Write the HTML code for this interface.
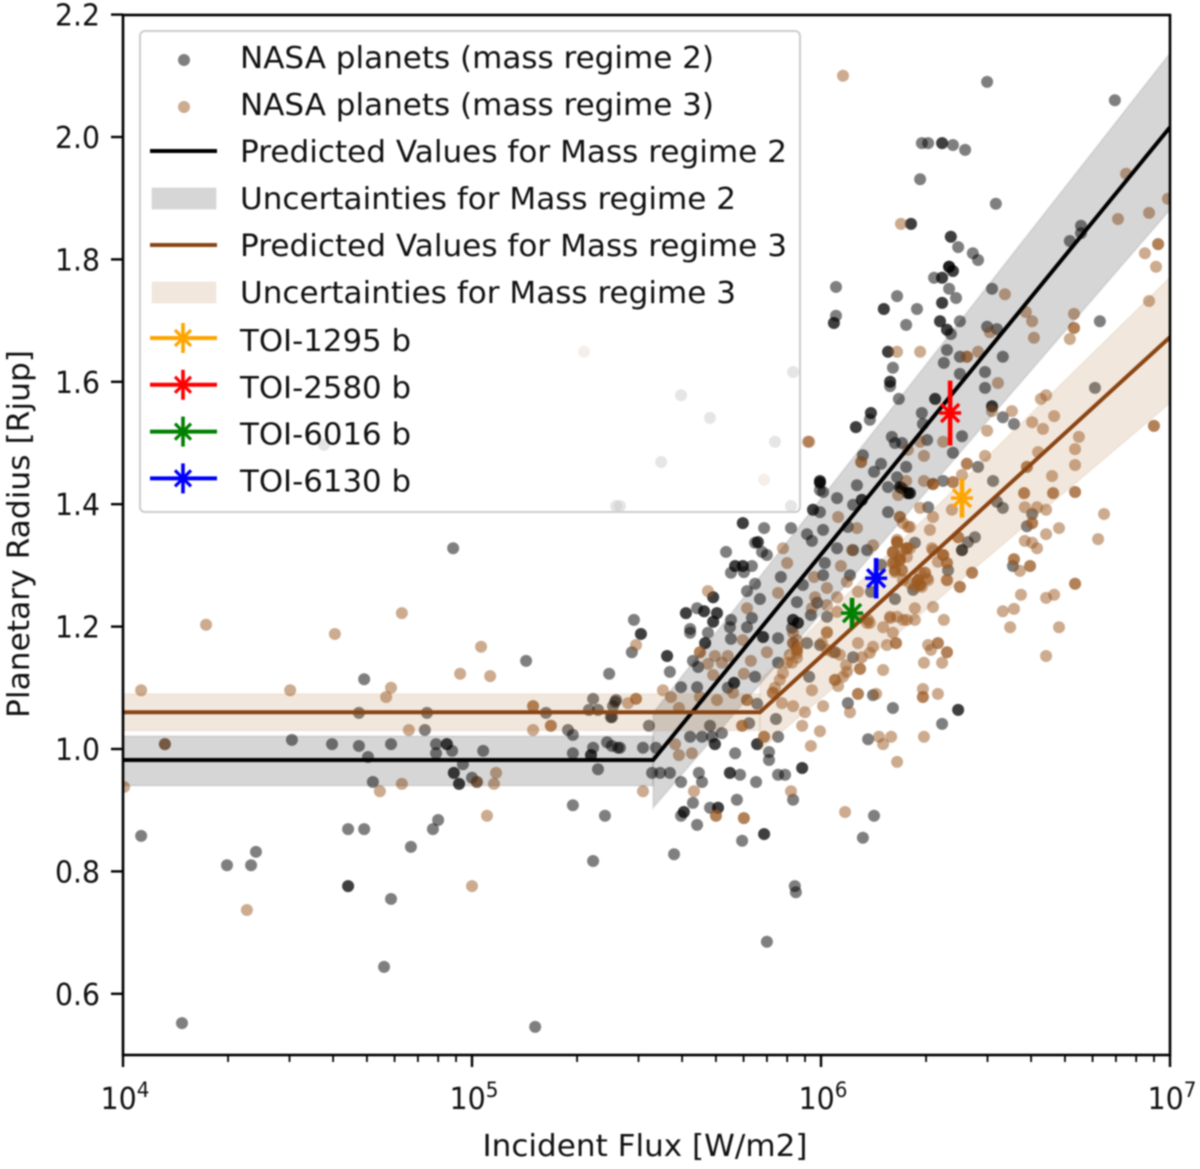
<!DOCTYPE html>
<html lang="en">
<head>
<meta charset="utf-8">
<title>Planetary Radius vs Incident Flux</title>
<style>
html,body{margin:0;padding:0;background:#fff;width:1200px;height:1169px;overflow:hidden}
svg{display:block;filter:blur(.8px)}
text{font-family:"DejaVu Sans","Liberation Sans",sans-serif;font-size:30px;fill:#111}
</style>
</head>
<body>
<svg id="chart" xmlns="http://www.w3.org/2000/svg" width="1200" height="1169" viewBox="0 0 1200 1169">
<defs><clipPath id="plot-clip"><rect x="123" y="15" width="1047" height="1040"/></clipPath></defs>
<rect x="0" y="0" width="1200" height="1169" fill="#fff"/>
<g id="marks" clip-path="url(#plot-clip)"></g>
<g id="axes"></g>
<text x="645" y="1156" text-anchor="middle" textLength="325" lengthAdjust="spacingAndGlyphs">Incident Flux [W/m2]</text>
<text transform="translate(29,534) rotate(-90)" text-anchor="middle" textLength="368" lengthAdjust="spacingAndGlyphs">Planetary Radius [Rjup]</text>
<g>
  <rect x="140" y="31" width="660" height="481" rx="5" fill="#fff" fill-opacity=".8" stroke="#ccc" stroke-width="2"/>
  <g><circle cx="184" cy="60" r="6" fill="#000" opacity=".5"/><text x="240" y="68" textLength="474" lengthAdjust="spacingAndGlyphs">NASA planets (mass regime 2)</text></g>
  <g><circle cx="184" cy="107" r="6" fill="#9a581f" opacity=".5"/><text x="240" y="115" textLength="474" lengthAdjust="spacingAndGlyphs">NASA planets (mass regime 3)</text></g>
  <g><line x1="150" x2="217" y1="151" y2="151" stroke="#000" stroke-width="4"/><text x="240" y="162" textLength="547" lengthAdjust="spacingAndGlyphs">Predicted Values for Mass regime 2</text></g>
  <g><rect x="152" y="188" width="64" height="21" fill="#000" fill-opacity=".16" stroke="#000" stroke-opacity=".06"/><text x="240" y="209" textLength="496" lengthAdjust="spacingAndGlyphs">Uncertainties for Mass regime 2</text></g>
  <g><line x1="150" x2="217" y1="245" y2="245" stroke="#8b4513" stroke-width="4"/><text x="240" y="256" textLength="547" lengthAdjust="spacingAndGlyphs">Predicted Values for Mass regime 3</text></g>
  <g><rect x="152" y="282" width="64" height="21" fill="#a66c2a" fill-opacity=".16" stroke="#a66c2a" stroke-opacity=".06"/><text x="240" y="303" textLength="496" lengthAdjust="spacingAndGlyphs">Uncertainties for Mass regime 3</text></g>
  <g id="legend-toi"></g>
</g>
</svg>
<script>
const regime2LogFlux = [
4.052,4.298,4.367,4.381,4.169,4.120,4.691,4.676,4.871,4.865,
4.484,4.599,4.676,4.768,4.897,4.928,4.928,4.897,4.943,5.032,
4.702,4.974,4.948,4.948,5.000,5.014,4.963,4.963,4.716,4.645,
4.691,4.903,4.888,4.825,4.645,4.645,4.768,4.748,5.181,5.347,
5.289,5.381,5.361,5.289,5.341,5.341,5.347,5.275,5.289,5.387,
5.401,5.418,5.347,5.335,5.361,5.398,5.413,5.404,5.212,5.155,
5.393,4.946,5.920,5.599,5.682,5.868,5.542,5.413,5.424,5.914,
4.576,5.997,5.997,6.006,6.046,6.103,6.226,6.226,6.255,6.255,
5.977,5.977,5.997,6.192,6.117,6.117,6.092,6.307,6.421,6.441,
6.404,6.404,5.776,5.776,5.837,5.914,5.960,5.974,6.006,6.077,
5.819,5.819,5.811,5.728,5.831,5.845,6.046,6.092,6.132,6.011,
6.083,6.006,6.172,5.754,5.754,5.776,5.776,5.802,5.742,5.779,
5.885,5.948,5.811,5.788,5.825,5.691,5.691,5.931,5.989,6.212,
6.143,6.264,6.364,5.645,5.613,5.613,5.665,5.665,5.702,5.702,
5.691,5.691,5.742,5.739,5.788,5.464,5.484,5.484,5.458,5.625,
5.625,5.676,5.742,5.668,5.668,5.559,5.559,5.633,5.648,5.567,
5.802,5.920,5.920,5.934,5.934,5.917,5.971,6.017,5.834,5.834,
5.877,5.960,5.997,5.877,6.040,6.092,5.751,5.751,5.733,5.811,
5.599,5.645,5.966,5.410,5.401,5.507,5.817,5.871,5.794,5.682,
5.625,5.659,5.688,5.716,5.696,5.696,5.817,5.817,5.877,5.424,
5.490,5.527,5.754,5.851,5.851,5.516,5.539,5.567,5.650,5.739,
5.739,5.768,5.877,5.897,5.946,5.946,5.599,5.659,5.814,5.759,
5.633,5.920,5.682,5.705,5.705,5.607,5.607,5.599,5.645,5.837,
5.837,5.774,5.579,6.120,6.152,6.077,6.149,6.206,6.393,6.393,
6.347,6.135,5.925,5.928,5.845,6.476,6.842,6.289,6.307,6.347,
6.347,6.378,6.413,6.284,6.501,6.258,6.258,6.372,6.372,6.393,
6.435,6.450,6.367,6.367,6.367,6.378,6.378,6.324,6.347,6.347,
6.043,6.367,6.490,6.218,6.387,6.347,6.347,6.180,6.180,6.275,
6.043,6.037,6.037,6.244,6.341,6.341,6.398,6.361,6.361,6.372,
6.476,6.504,6.799,6.745,6.713,6.745,6.192,6.192,6.361,6.398,
6.352,6.521,6.206,6.398,6.470,6.470,6.198,6.198,6.198,6.223,
6.327,6.327,6.785,6.490,6.490,6.521,6.553,6.143,6.143,6.140,
6.100,6.100,6.289,6.292,6.404,6.378,6.203,6.212,6.232,6.304,
6.120,6.172,6.152,6.244,6.450,6.218,6.493,5.997,5.997,5.997,
6.192,6.232,6.232,6.249,6.249,6.350,6.269,6.504,6.521,6.605,
6.590,6.550];
const regime2Radius = [
.858,.810,.810,.832,.552,1.008,1.114,1.059,1.059,1.031,
1.015,1.008,1.005,1.008,1.008,1.008,1.008,.993,.997,.997,
.987,.975,.961,.961,.953,.946,.943,.943,.946,.869,
.869,.884,.869,.840,.776,.776,.755,.644,.546,.817,
.908,.891,.967,.993,.990,.990,1.002,1.031,1.023,1.011,
1.005,1.002,1.082,1.064,1.064,1.052,1.080,1.070,1.059,1.144,
1.123,1.328,1.616,1.578,1.541,1.502,1.469,1.397,1.397,1.397,
1.497,1.435,1.435,1.420,1.410,1.431,1.428,1.428,1.418,1.418,
1.391,1.391,1.387,1.387,1.407,1.407,1.399,1.395,1.338,1.346,
1.325,1.325,1.369,1.369,1.361,1.361,1.351,1.340,1.358,1.363,
1.338,1.338,1.337,1.322,1.322,1.317,1.328,1.325,1.325,1.304,
1.284,1.284,1.301,1.299,1.299,1.299,1.299,1.299,1.288,1.289,
1.281,1.268,1.270,1.258,1.245,1.248,1.248,1.240,1.239,1.245,
1.257,1.260,1.292,1.230,1.222,1.222,1.225,1.225,1.222,1.222,
1.208,1.208,1.211,1.199,1.199,1.211,1.188,1.188,1.158,1.196,
1.190,1.190,1.180,1.173,1.173,1.152,1.152,1.144,1.134,1.126,
1.214,1.211,1.211,1.206,1.206,1.198,1.219,1.216,1.183,1.183,
1.181,1.173,1.170,1.141,1.158,1.150,1.108,1.108,1.100,1.118,
1.101,1.101,1.118,1.077,1.052,1.038,1.074,1.049,1.042,1.038,
1.020,1.020,1.020,1.026,1.008,1.008,1.008,1.008,1.020,1.002,
1.002,1.002,.993,.995,.982,.961,.961,.961,.961,.961,
.961,.958,.958,.958,.969,.969,.946,.946,.946,.917,
.912,.917,.904,.904,.904,.897,.897,.891,.876,.861,
.861,.850,.828,.855,.891,1.075,1.088,1.067,1.064,1.064,
1.041,1.016,.776,.766,.685,2.090,2.060,1.990,1.990,1.990,
1.990,1.987,1.979,1.931,1.891,1.858,1.858,1.837,1.837,1.820,
1.810,1.799,1.788,1.788,1.788,1.781,1.781,1.770,1.770,1.770,
1.755,1.752,1.752,1.740,1.737,1.729,1.729,1.719,1.719,1.719,
1.708,1.696,1.696,1.693,1.699,1.699,1.699,1.685,1.685,1.678,
1.690,1.686,1.699,1.855,1.830,1.843,1.649,1.649,1.652,1.641,
1.631,1.641,1.623,1.613,1.616,1.590,1.600,1.600,1.593,1.572,
1.572,1.572,1.590,1.560,1.560,1.542,1.531,1.549,1.549,1.538,
1.526,1.526,1.549,1.531,1.511,1.484,1.510,1.500,1.500,1.505,
1.480,1.466,1.453,1.461,1.461,1.444,1.438,1.438,1.438,1.423,
1.428,1.426,1.426,1.418,1.418,1.438,1.337,1.404,1.394,1.384,
1.364,1.299];
const regime3LogFlux = [
4.052,4.238,4.607,4.799,4.479,4.768,4.754,4.966,5.026,5.052,
4.819,5.175,5.175,5.175,5.226,5.226,4.003,4.120,4.799,4.736,
5.069,5.063,5.014,5.043,5.000,4.355,5.321,5.837,5.963,6.063,
6.049,6.226,6.226,6.255,6.103,6.375,6.284,6.321,6.393,5.891,
5.903,6.057,6.089,5.980,6.074,6.017,5.877,5.983,6.046,6.106,
5.676,5.788,5.974,6.017,6.046,5.470,5.653,5.653,5.696,5.733,
5.676,5.716,5.799,5.845,5.776,5.691,5.779,5.920,5.920,5.931,
5.931,5.931,5.917,6.017,6.003,6.034,6.106,6.149,6.189,6.215,
6.215,6.140,6.117,6.140,6.135,6.112,6.178,6.198,6.235,6.206,
6.269,6.269,6.321,6.352,6.307,6.335,6.335,6.315,6.361,6.361,
6.295,6.347,6.178,6.112,6.112,6.072,6.074,6.040,6.040,6.049,
6.063,5.974,5.882,5.862,5.862,5.888,5.920,5.954,6.006,6.106,
6.106,6.158,6.083,5.946,5.997,5.971,6.166,6.201,6.178,6.218,
6.295,6.292,6.292,6.292,6.335,5.914,6.069,5.779,5.779,5.699,
5.699,5.636,5.490,5.837,5.837,5.774,5.774,5.630,5.593,5.582,
5.547,5.470,5.470,5.447,5.570,5.593,5.788,5.788,5.748,5.702,
5.653,6.206,6.206,6.218,6.218,6.218,6.246,6.246,6.246,6.226,
6.226,6.226,6.206,6.206,6.232,6.232,6.212,6.212,6.284,6.278,
6.278,6.278,6.298,6.298,6.350,6.350,6.361,6.361,6.321,6.361,
6.307,6.284,6.284,6.284,6.433,6.433,6.398,6.398,6.269,6.874,
6.994,6.940,6.851,6.229,6.966,6.966,6.928,6.960,6.940,6.527,
6.725,6.587,6.605,6.725,6.725,6.713,6.610,6.484,6.218,6.284,
6.450,6.418,6.418,6.507,5.966,6.645,6.630,6.668,6.547,6.490,
6.605,6.636,6.476,6.739,6.728,6.728,6.954,6.954,6.470,6.418,
6.418,6.622,6.590,6.590,6.662,6.582,6.582,6.665,6.665,6.728,
6.728,6.404,6.378,6.378,6.321,6.321,6.321,6.295,6.244,6.284,
6.350,6.295,6.115,6.115,6.249,6.221,6.584,6.619,6.645,6.605,
6.605,6.645,6.682,6.811,6.794,6.584,6.605,6.619,6.553,6.553,
6.599,6.599,6.570,6.728,6.728,6.573,6.645,6.668,6.521,6.553,
6.542,6.682,6.645,
6.218,6.206,6.235,6.255,6.212,6.226,6.246,6.212,6.235,6.275,
6.289,6.255,6.304,6.318,6.350,6.335,6.361,6.218,6.198,6.246,
6.132,6.249,6.312,6.235,6.149,6.393,5.920,5.931,5.931,5.931,
6.017,6.017,6.054,5.903,5.891,5.868,5.911];
const regime3Radius = [
1.096,1.203,1.188,1.222,1.096,1.100,1.085,1.123,1.167,1.119,
1.031,1.070,1.070,1.031,1.038,1.038,.938,1.008,.943,.931,
.961,.943,.946,.891,.776,.737,1.649,1.440,1.502,2.100,
1.379,1.379,1.379,1.363,1.361,1.391,1.394,1.379,1.346,1.328,
1.304,1.299,1.325,1.281,1.273,1.263,1.255,1.248,1.248,1.257,
1.258,1.230,1.230,1.235,1.224,1.170,1.158,1.158,1.152,1.152,
1.139,1.141,1.144,1.158,1.178,1.121,1.123,1.173,1.173,1.162,
1.162,1.149,1.141,1.191,1.173,1.158,1.173,1.167,1.170,1.173,
1.173,1.157,1.150,1.206,1.211,1.214,1.199,1.214,1.211,1.190,
1.230,1.211,1.232,1.211,1.170,1.173,1.173,1.162,1.158,1.158,
1.141,1.141,1.129,1.131,1.131,1.137,1.126,1.113,1.113,1.103,
1.118,1.096,1.113,1.092,1.092,1.075,1.070,1.060,1.070,1.090,
1.090,1.090,1.060,1.038,1.029,1.005,1.020,1.020,1.008,.979,
1.020,1.098,1.085,1.085,1.090,.931,.897,.887,.887,.891,
.891,.931,.931,1.020,1.020,1.038,1.038,.993,.990,1.008,
1.096,1.082,1.082,1.075,1.085,1.067,1.080,1.080,1.092,1.080,
1.085,1.322,1.322,1.338,1.338,1.338,1.328,1.328,1.328,1.309,
1.309,1.309,1.304,1.304,1.292,1.292,1.292,1.292,1.288,1.276,
1.276,1.276,1.288,1.288,1.317,1.317,1.304,1.304,1.325,1.276,
1.276,1.268,1.268,1.268,1.288,1.288,1.265,1.265,1.265,1.940,
1.899,1.876,1.866,1.858,1.825,1.825,1.810,1.788,1.732,1.743,
1.711,1.714,1.699,1.688,1.688,1.670,1.672,1.681,1.649,1.649,
1.649,1.641,1.641,1.598,1.502,1.578,1.572,1.544,1.552,1.552,
1.534,1.523,1.520,1.510,1.490,1.464,1.528,1.528,1.479,1.466,
1.466,1.485,1.461,1.461,1.446,1.418,1.418,1.418,1.418,1.420,
1.420,1.448,1.436,1.436,1.433,1.433,1.433,1.438,1.438,1.502,
1.502,1.479,1.469,1.469,1.489,1.415,1.395,1.395,1.391,1.369,
1.369,1.351,1.361,1.384,1.343,1.340,1.337,1.328,1.310,1.310,
1.299,1.299,1.291,1.270,1.270,1.252,1.247,1.252,1.225,1.229,
1.199,1.199,1.152,
1.342,1.320,1.325,1.328,1.304,1.314,1.314,1.289,1.276,1.273,
1.265,1.271,1.279,1.328,1.317,1.306,1.276,1.216,1.216,1.211,
1.206,1.363,1.358,1.369,1.333,1.346,1.190,1.178,1.167,1.157,
1.190,1.162,1.154,1.141,1.124,1.100,1.154];

const regime2LineLogFlux = [4, 5.519, 7];
const regime2LineRadius = [0.982, 0.982, 2.016];
const regime3LineLogFlux = [4, 5.825, 7];
const regime3LineRadius = [1.06, 1.06, 1.673];

const band2FlatLogFlux = [4, 5.519];
const band2FlatUpper = [1.021, 1.021];
const band2FlatLower = [0.94, 0.94];
const band2RiseLogFlux = [5.519, 7];
const band2RiseUpper = [1.059, 2.137];
const band2RiseLower = [0.904, 1.881];
const band3FlatLogFlux = [4, 5.825];
const band3FlatUpper = [1.09, 1.09];
const band3FlatLower = [1.03, 1.03];
const band3RiseLogFlux = [5.825, 7];
const band3RiseUpper = [1.113, 1.771];
const band3RiseLower = [0.998, 1.565];

const toiNames = ['TOI-1295 b', 'TOI-2580 b', 'TOI-6016 b', 'TOI-6130 b'];
const toiColors = ['orange', 'red', 'green', 'blue'];
const toiLogFlux = [6.404, 6.37, 6.089, 6.158];
const toiRadius = [1.41, 1.549, 1.222, 1.279];
const toiRadiusErr = [0.032, 0.053, 0.025, 0.033];

const yTickValues = [0.6, 0.8, 1.0, 1.2, 1.4, 1.6, 1.8, 2.0, 2.2];
const yTickLabels = ['0.6', '0.8', '1.0', '1.2', '1.4', '1.6', '1.8', '2.0', '2.2'];
const xTickExponents = [4, 5, 6, 7];
const xMinorDecades = [4, 5, 6];
const xMinorMultiples = [2, 3, 4, 5, 6, 7, 8, 9];

const xDomain = [4, 7];
const yDomain = [1.0, 2.2];
const xRange = [123, 1170];
const yRange = [749, 14.6];

function xScale(logFlux) {
  return xRange[0] + (logFlux - xDomain[0]) / (xDomain[1] - xDomain[0]) * (xRange[1] - xRange[0]);
}
function yScale(radius) {
  return yRange[0] + (radius - yDomain[0]) / (yDomain[1] - yDomain[0]) * (yRange[1] - yRange[0]);
}

const NS = 'http://www.w3.org/2000/svg';
const marks = document.getElementById('marks');
const axes = document.getElementById('axes');
const legendToi = document.getElementById('legend-toi');

function make(tag, parent, props) {
  const el = document.createElementNS(NS, tag);
  for (const k in props) el.setAttribute(k, props[k]);
  parent.appendChild(el);
  return el;
}

function drawPoints(fluxes, radii, colour, name) {
  const n = Math.min(fluxes.length, radii.length);
  for (let i = 0; i < n; i++) {
    const c = make('circle', marks, {cx: xScale(fluxes[i]), cy: yScale(radii[i]), r: 6, fill: colour, opacity: 0.5});
    
    
  }
}
drawPoints(regime2LogFlux, regime2Radius, '#000000', 'planet-point-regime-2');
drawPoints(regime3LogFlux, regime3Radius, '#9a581f', 'planet-point-regime-3');

function drawBand(fluxes, upper, lower, colour, name) {
  const pts = [];
  for (let i = 0; i < fluxes.length; i++) pts.push(xScale(fluxes[i]) + ',' + yScale(upper[i]));
  for (let i = fluxes.length - 1; i >= 0; i--) pts.push(xScale(fluxes[i]) + ',' + yScale(lower[i]));
  const p = make('polygon', marks, {points: pts.join(' '), fill: colour, 'fill-opacity': 0.16, stroke: colour, 'stroke-opacity': 0.07, 'stroke-width': 2});
  
  
}
drawBand(band2FlatLogFlux, band2FlatUpper, band2FlatLower, '#000000', 'uncertainty-band-regime-2-flat');
drawBand(band2RiseLogFlux, band2RiseUpper, band2RiseLower, '#000000', 'uncertainty-band-regime-2-rise');
drawBand(band3FlatLogFlux, band3FlatUpper, band3FlatLower, '#a66c2a', 'uncertainty-band-regime-3-flat');
drawBand(band3RiseLogFlux, band3RiseUpper, band3RiseLower, '#a66c2a', 'uncertainty-band-regime-3-rise');

function drawLine(fluxes, radii, colour, name) {
  const pts = fluxes.map(function (f, i) { return xScale(f) + ',' + yScale(radii[i]); }).join(' ');
  const l = make('polyline', marks, {points: pts, fill: 'none', stroke: colour, 'stroke-width': 4});
  
  
}
drawLine(regime2LineLogFlux, regime2LineRadius, '#000000', 'predicted-line-regime-2');
drawLine(regime3LineLogFlux, regime3LineRadius, '#8b4513', 'predicted-line-regime-3');

function drawStar(parent, cx, cy, colour) {
  make('line', parent, {x1: cx - 11, x2: cx + 11, y1: cy, y2: cy, stroke: colour, 'stroke-width': 3.4});
  make('line', parent, {x1: cx - 9, x2: cx + 9, y1: cy - 9, y2: cy + 9, stroke: colour, 'stroke-width': 3.4});
  make('line', parent, {x1: cx - 9, x2: cx + 9, y1: cy + 9, y2: cy - 9, stroke: colour, 'stroke-width': 3.4});
}
toiNames.forEach(function (name, i) {
  const g = make('g', marks, {});
  
  
  const cx = xScale(toiLogFlux[i]);
  make('line', g, {x1: cx, x2: cx, y1: yScale(toiRadius[i] + toiRadiusErr[i]), y2: yScale(toiRadius[i] - toiRadiusErr[i]), stroke: toiColors[i], 'stroke-width': 4.6});
  drawStar(g, cx, yScale(toiRadius[i]), toiColors[i]);

  const rowY = 340 + i * 46.8;
  const row = make('g', legendToi, {});
  
  
  make('line', row, {x1: 150, x2: 217, y1: rowY - 2, y2: rowY - 2, stroke: toiColors[i], 'stroke-width': 4});
  make('line', row, {x1: 183, x2: 183, y1: rowY - 17, y2: rowY + 13, stroke: toiColors[i], 'stroke-width': 3.6});
  make('line', row, {x1: 175, x2: 191, y1: rowY - 10, y2: rowY + 6, stroke: toiColors[i], 'stroke-width': 3.2});
  make('line', row, {x1: 175, x2: 191, y1: rowY + 6, y2: rowY - 10, stroke: toiColors[i], 'stroke-width': 3.2});
  const t = make('text', row, {x: 240, y: rowY + 11, textLength: 171, lengthAdjust: 'spacingAndGlyphs'});
  t.textContent = name;
});

const spine = make('rect', axes, {x: 123, y: 15, width: 1047, height: 1040, fill: 'none', stroke: '#000', 'stroke-width': 2.6});



yTickValues.forEach(function (v, i) {
  const y = yScale(v);
  const tick = make('line', axes, {x1: 111, x2: 123, y1: y, y2: y, stroke: '#000', 'stroke-width': 2.4});
  
  
  const label = make('text', axes, {x: 100, y: y + 11, 'text-anchor': 'end', textLength: 45, lengthAdjust: 'spacingAndGlyphs'});
  
  
  label.textContent = yTickLabels[i];
});

xTickExponents.forEach(function (e) {
  const x = xScale(e);
  const tick = make('line', axes, {x1: x, x2: x, y1: 1055, y2: 1067, stroke: '#000', 'stroke-width': 2.4});
  
  
  const label = make('text', axes, {x: x + 2, y: 1109, 'text-anchor': 'middle', textLength: 49, lengthAdjust: 'spacingAndGlyphs'});
  
  
  label.textContent = '10';
  const sup = make('tspan', label, {dy: -12, style: 'font-size:21px'});
  sup.textContent = String(e);
});

xMinorDecades.forEach(function (d) {
  xMinorMultiples.forEach(function (m) {
    const x = xScale(d + Math.log10(m));
    const tick = make('line', axes, {x1: x, x2: x, y1: 1055, y2: 1062, stroke: '#000', 'stroke-width': 1.8});
    
    
  });
});
</script>
</body>
</html>
